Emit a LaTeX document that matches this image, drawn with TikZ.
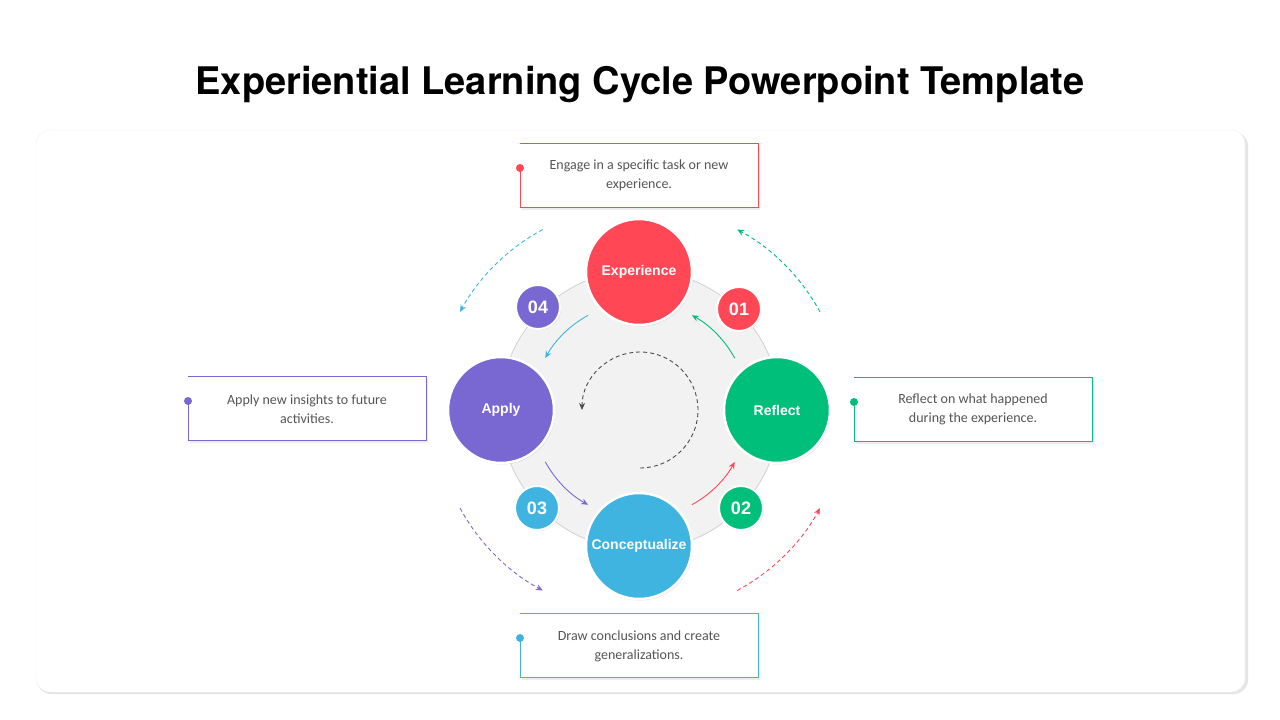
\documentclass[tikz,border=0pt]{standalone}
\usepackage{fontspec}
\setmainfont{Carlito}
\newfontfamily\heros{TeX Gyre Heros}
\newfontfamily\arialf{Liberation Sans}
\usetikzlibrary{shadows,arrows.meta}
\definecolor{cred}{HTML}{FF4756}
\definecolor{cgreen}{HTML}{00BF7A}
\definecolor{cblue}{HTML}{40B4E0}
\definecolor{cpurple}{HTML}{7A68D2}
\definecolor{tgray}{HTML}{555555}
\begin{document}
\begin{tikzpicture}[x=1pt,y=-1pt,
 bigc/.style={circle,minimum size=106pt,inner sep=0pt,draw=white,line width=2.5pt,text=white,font=\arialf\bfseries\fontsize{14}{16}\selectfont,drop shadow={shadow xshift=1pt,shadow yshift=-1.5pt,opacity=0.25}},
 numc/.style={circle,minimum size=44pt,inner sep=0pt,draw=white,line width=2pt,text=white,font=\arialf\bfseries\fontsize{18}{20}\selectfont,drop shadow={shadow xshift=1pt,shadow yshift=-1pt,opacity=0.25}},
 txt/.style={text=tgray,font=\fontsize{14}{19}\selectfont,align=center},
 dot/.style={circle,inner sep=0pt,minimum size=8pt},
 inarr/.style={line width=0.9pt,-{Stealth[length=7pt,width=6pt]}},
 outarr/.style={line width=0.9pt,dashed,dash pattern=on 4pt off 3pt,-{Stealth[length=7pt,width=6pt]}}]
\useasboundingbox (0,0) rectangle (1280,720);
\fill[white] (0,0) rectangle (1280,720);
\node[font=\heros\bfseries\fontsize{38}{40}\selectfont] (title) at (640,85) {Experiential Learning Cycle Powerpoint Template};
\fill[black!10] (37,132) [rounded corners=14pt] rectangle (1248,694);
\filldraw[fill=white,draw=black!6,rounded corners=14pt] (36,130) rectangle (1245,692);
% center
\fill[black!5] (640,410) circle (140);
\draw[black!18,line width=0.8pt] (640,410) circle (140);
\coordinate (c) at (640,410);
% outer dashed arcs
\draw[outarr,cred] (c) ++(61.7:205) arc[start angle=61.7,end angle=28.6,radius=205];
\draw[outarr,cgreen] (c) ++(-28.6:205) arc[start angle=-28.6,end angle=-61.7,radius=205];
\draw[outarr,cblue] (c) ++(-118.3:205) arc[start angle=-118.3,end angle=-151.4,radius=205];
\draw[outarr,cpurple] (c) ++(151.4:205) arc[start angle=151.4,end angle=118.3,radius=205];
% inner arcs
\draw[inarr,cred] (c) ++(61.3:108) arc[start angle=61.3,end angle=28.7,radius=108];
\draw[inarr,cgreen] (c) ++(-28.7:108) arc[start angle=-28.7,end angle=-61.3,radius=108];
\draw[inarr,cblue] (c) ++(-118.7:108) arc[start angle=-118.7,end angle=-151.3,radius=108];
\draw[inarr,cpurple] (c) ++(151.3:108) arc[start angle=151.3,end angle=118.7,radius=108];
% center dashed
\draw[line width=0.9pt,black!70,dash pattern=on 4pt off 3pt,-{Stealth[length=7pt,width=6pt]}] (c) ++(90:58) arc[start angle=90,end angle=-180,radius=58];
% circles
\node[bigc,fill=cred] (exp) at (639,272) {Experience};
\node[bigc,fill=cgreen] (ref) at (777,410) {Reflect};
\node[bigc,fill=cblue] (con) at (639,546) {Conceptualize};
\node[bigc,fill=cpurple] (app) at (501,410) {Apply};
\node[numc,fill=cred] (n1) at (739,309) {01};
\node[numc,fill=cgreen] (n2) at (741,508) {02};
\node[numc,fill=cblue] (n3) at (537,508) {03};
\node[numc,fill=cpurple] (n4) at (538,307) {04};
% boxes
\foreach \x/\y/\col/\nm in {520/143/cred/bt,854/377/cgreen/br,520/613/cblue/bb,188/376/cpurple/bl}{
  \fill[black!7] (\x+2,\y+3) rectangle (\x+240,\y+67);
  \fill[white] (\x,\y) rectangle (\x+238,\y+64);
  \draw[\col,line width=0.9pt] (\x,\y+25) -- (\x,\y+64) -- (\x+238,\y+64) -- (\x+238,\y) -- (\x,\y);
  \node[dot,fill=\col] (\nm) at (\x,\y+25) {};
}
\node[txt] (t1) at (639,175) {Engage in a specific task or new\\experience.};
\node[txt] (t2) at (973,409) {Reflect on what happened\\during the experience.};
\node[txt] (t3) at (639,646) {Draw conclusions and create\\generalizations.};
\node[txt] (t4) at (307,409) {Apply new insights to future\\activities.};
\end{tikzpicture}
\end{document}
